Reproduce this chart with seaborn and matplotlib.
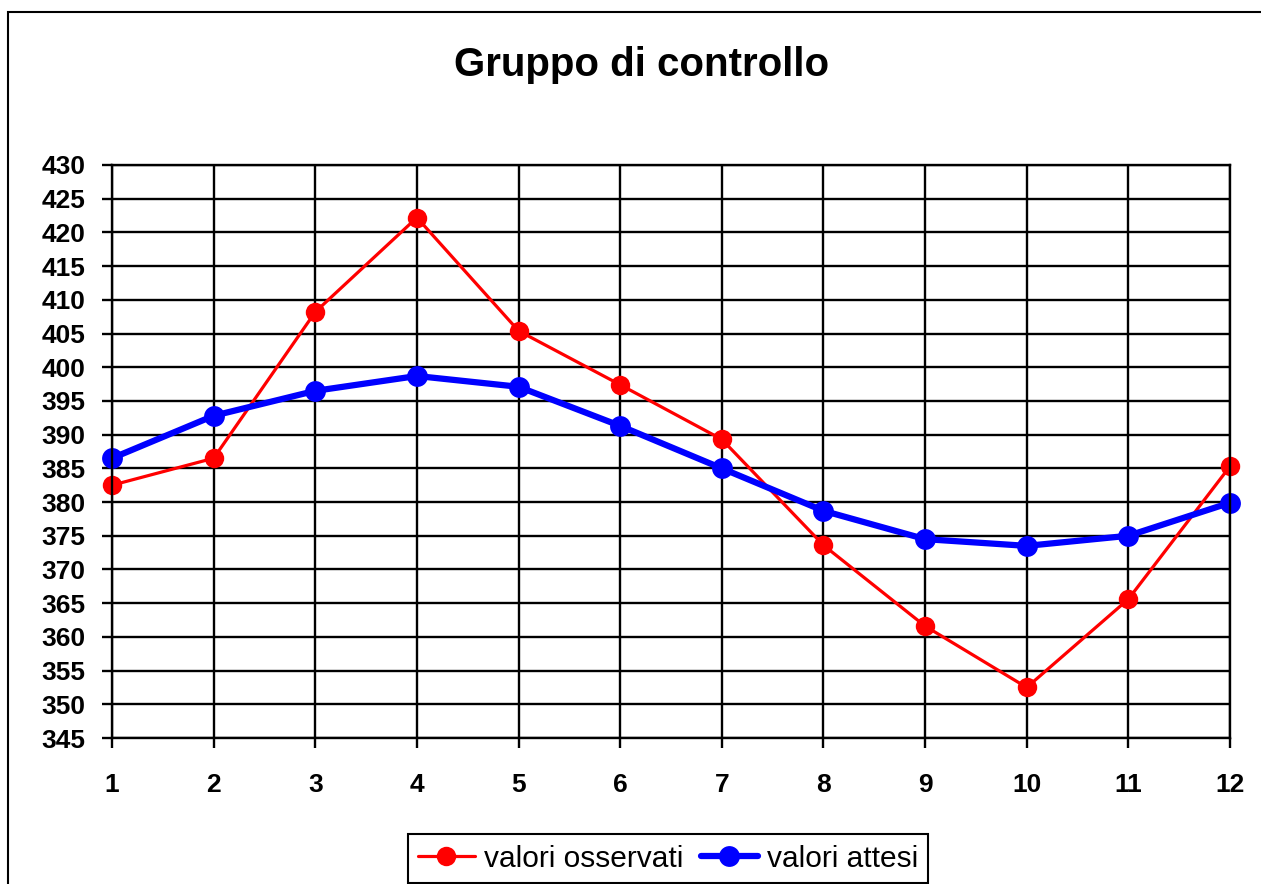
import pandas as pd
import matplotlib
matplotlib.use("Agg")
import matplotlib.pyplot as plt
from matplotlib.patches import Rectangle
import seaborn as sns

# Data
months = [1, 2, 3, 4, 5, 6, 7, 8, 9, 10, 11, 12]
observed = [382.5, 386.5, 408.2, 422.2, 405.4, 397.4, 389.3, 373.6, 361.6, 352.5, 365.6, 385.3]
expected = [386.5, 392.8, 396.5, 398.7, 397.1, 391.3, 385.0, 378.7, 374.5, 373.5, 375.0, 379.9]
y_ticks = list(range(345, 431, 5))

obs_df = pd.DataFrame({"mese": months, "valore": observed})
exp_df = pd.DataFrame({"mese": months, "valore": expected})

sns.set_style("white")
plt.rcParams['font.family'] = ['Liberation Sans', 'DejaVu Sans']
plt.rcParams['text.color'] = 'black'
plt.rcParams['xtick.color'] = 'black'
plt.rcParams['ytick.color'] = 'black'

fig = plt.figure(figsize=(12.61, 8.84), dpi=100)
ax = fig.add_axes([112 / 1261, 1 - 738 / 884, (1230 - 112) / 1261, (738 - 165) / 884])

sns.lineplot(data=obs_df, x="mese", y="valore", ax=ax, color="#ff0000", linewidth=2.3,
             marker="o", markersize=14, markeredgewidth=0, label="valori osservati", clip_on=False)
sns.lineplot(data=exp_df, x="mese", y="valore", ax=ax, color="#0000ff", linewidth=4.5,
             marker="o", markersize=15, markeredgewidth=0, label="valori attesi", clip_on=False)

ax.set_xlim(1, 12)
ax.set_ylim(345, 430)
ax.set_xticks(months)
ax.set_yticks(y_ticks)
ax.set_xlabel("")
ax.set_ylabel("")
ax.grid(True, color="black", linewidth=1.7)
ax.set_axisbelow(True)
for sp in ax.spines.values():
    sp.set_color("black")
    sp.set_linewidth(1.7)

ax.tick_params(axis="both", direction="out", length=7, width=1.7, color="black",
               bottom=True, left=True, labelsize=19, labelcolor="black")
ax.tick_params(axis="x", pad=18)
ax.tick_params(axis="y", pad=12)
for lbl in ax.get_xticklabels() + ax.get_yticklabels():
    lbl.set_fontweight("bold")

ax.get_legend().remove()
handles, labels = ax.get_legend_handles_labels()
leg = fig.legend(handles, labels, loc="lower center", bbox_to_anchor=(668 / 1261, 0.001),
                 bbox_transform=fig.transFigure, ncol=2, fontsize=21.5, frameon=True,
                 fancybox=False, edgecolor="black", framealpha=1, borderaxespad=0,
                 handlelength=1.9, handletextpad=0.3, columnspacing=0.6, borderpad=0.35)
leg.get_frame().set_linewidth(1.5)
for t in leg.get_texts():
    t.set_color("black")

fig.text(642 / 1261, 1 - 65 / 884, "Gruppo di controllo", ha="center", va="center",
         fontsize=29, fontweight="bold", color="black")

# outer chart border (right and bottom run off the image)
fig.patches.append(Rectangle((8 / 1261, -0.05), 1.2, 1 - 12 / 884 + 0.05, transform=fig.transFigure,
                             fill=False, edgecolor="black", linewidth=1.5))

fig.savefig("out.png", dpi=100)
